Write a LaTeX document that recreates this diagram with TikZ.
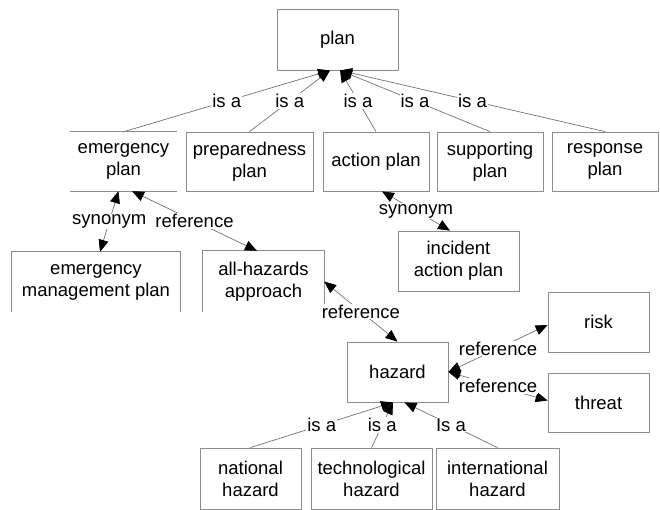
\documentclass[tikz,border=0pt]{standalone}
\usepackage{fontspec}
\setmainfont{Liberation Sans}
\usetikzlibrary{arrows.meta,calc}
\begin{document}
\begin{tikzpicture}[x=1pt,y=-1pt,
  txt/.style={inner sep=0pt, align=center, font=\fontsize{18.5}{22}\selectfont},
  box/.style={txt, draw=black!45, line width=0.8pt},
  rel/.style={draw=black!55, line width=0.7pt, -{Triangle[length=12pt,width=10pt,color=black]}},
  relb/.style={draw=black!55, line width=0.7pt, {Triangle[length=12pt,width=10pt,color=black]}-{Triangle[length=12pt,width=10pt,color=black]}},
  edgeline/.style={draw=black!45, line width=0.8pt},
  lab/.style={fill=white, inner sep=1pt, pos=0.5, font=\fontsize{18.5}{22}\selectfont}]
\useasboundingbox[fill=white] (0,0) rectangle (660,510);
% nodes
\node[box, minimum width=121, minimum height=61] (plan) at (337.5,39.5) {plan};
\node[txt, minimum width=107, minimum height=59] (emerg) at (123.5,161.5) {emergency\\plan};
\node[box, minimum width=127, minimum height=59] (prep) at (249.5,161.5) {preparedness\\plan};
\node[box, minimum width=106, minimum height=59] (action) at (376,161.5) {action plan};
\node[box, minimum width=106, minimum height=59] (support) at (490,161.5) {supporting\\plan};
\node[box, minimum width=106, minimum height=59] (response) at (605,161.5) {response\\plan};
\node[box, minimum width=121, minimum height=60] (incident) at (458.5,261) {incident\\action plan};
\node[txt, minimum width=168, minimum height=60] (emgmt) at (96,282) {emergency\\management plan};
\node[txt, minimum width=121, minimum height=61] (allhaz) at (263.5,281.5) {all-hazards\\approach};
\node[box, minimum width=101, minimum height=60] (risk) at (598.5,322) {risk};
\node[box, minimum width=101, minimum height=60] (hazard) at (397.5,372) {hazard};
\node[box, minimum width=101, minimum height=59] (threat) at (598.5,402.5) {threat};
\node[box, minimum width=101, minimum height=61] (national) at (250.5,478.5) {national\\hazard};
\node[box, minimum width=121, minimum height=61] (tech) at (371.5,478.5) {technological\\hazard};
\node[box, minimum width=123, minimum height=61] (intl) at (497.5,478.5) {international\\hazard};
% partial borders
\draw[edgeline] (emerg.north west) -- (emerg.north east);
\draw[edgeline] (emerg.south west) -- (emerg.south east);
\draw[edgeline] (emgmt.south west) -- (emgmt.north west) -- (emgmt.north east) -- (emgmt.south east);
\draw[edgeline] (allhaz.south west) -- (allhaz.north west) -- (allhaz.north east) -- (allhaz.south east);
% is a (plan)
\draw[rel] (emerg.north) -- node[lab]{is a} ($(plan.south)+(-7.5,0)$);
\draw[rel] (prep.north) -- node[lab]{is a} ($(plan.south)+(-7.5,0)$);
\draw[rel] (action.north) -- node[lab]{is a} ($(plan.south)+(2.5,0)$);
\draw[rel] (support.north) -- node[lab]{is a} ($(plan.south)+(2.5,0)$);
\draw[rel] (response.north) -- node[lab]{is a} ($(plan.south)+(2.5,0)$);
% synonyms and references
\draw[relb] ($(emerg.south)+(-5,0)$) -- node[lab]{synonym} ($(emgmt.north)+(4,0)$);
\draw[relb] ($(emerg.south)+(8.5,0)$) -- node[lab]{reference} ($(allhaz.north)+(-6.5,0)$);
\draw[relb] ($(action.south)+(6,0)$) -- node[lab]{synonym} ($(incident.north)+(-8.5,0)$);
\draw[relb] (allhaz.east) -- node[lab]{reference} (hazard.north);
\draw[relb] (hazard.east) -- node[lab]{reference} ($(risk.west)+(0,3)$);
\draw[relb] (hazard.east) -- node[lab]{reference} ($(threat.west)+(0,-2)$);
% is a (hazard)
\draw[rel] (national.north) -- node[lab]{is a} ($(hazard.south)+(-4.5,0)$);
\draw[rel] (tech.north) -- node[lab]{is a} ($(hazard.south)+(-4.5,0)$);
\draw[rel] (intl.north) -- node[lab]{Is a} ($(hazard.south)+(7,0)$);
\end{tikzpicture}
\end{document}
